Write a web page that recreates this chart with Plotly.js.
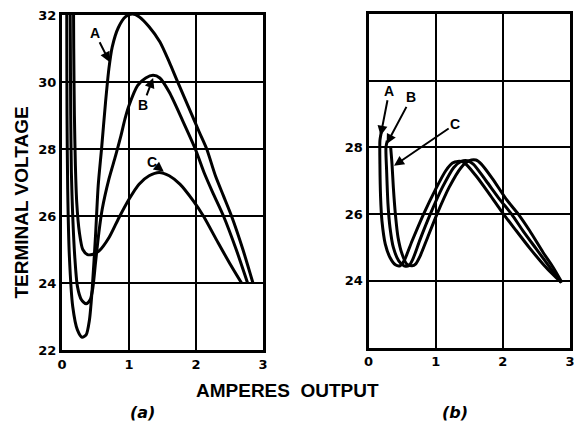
<!DOCTYPE html>
<html>
<head>
<meta charset="utf-8">
<script src="https://cdn.plot.ly/plotly-3.0.1.min.js"></script>
<style>html,body{margin:0;padding:0;background:#fff;}#chart{width:574px;height:433px;}</style>
</head>
<body>
<div id="chart"></div>
<script>
// ---- Panel (a) data: amperes output vs terminal voltage ----
const panelA_curveA_amps  = [0.07, 0.072, 0.075, 0.085, 0.11, 0.16, 0.23, 0.30, 0.36, 0.41, 0.45, 0.50, 0.54, 0.59, 0.65, 0.70, 0.75, 0.84, 0.95, 1.05, 1.15, 1.30, 1.46, 1.60, 1.71, 1.90, 2.05, 2.16, 2.29, 2.41, 2.53, 2.70, 2.85];
const panelA_curveA_volts = [33.0, 31.0, 29.0, 26.8, 24.8, 23.3, 22.6, 22.38, 22.45, 22.9, 23.8, 25.4, 26.9, 28.0, 29.4, 30.4, 31.05, 31.62, 31.95, 32.03, 31.95, 31.65, 31.2, 30.6, 30.08, 29.2, 28.5, 28.0, 27.2, 26.6, 26.0, 25.0, 24.0];

const panelA_curveB_amps  = [0.12, 0.125, 0.13, 0.14, 0.16, 0.19, 0.23, 0.29, 0.36, 0.42, 0.46, 0.50, 0.55, 0.60, 0.70, 0.80, 0.88, 0.94, 1.00, 1.13, 1.25, 1.36, 1.46, 1.60, 1.80, 1.99, 2.12, 2.25, 2.41, 2.60, 2.77];
const panelA_curveB_volts = [33.0, 31.0, 29.0, 27.3, 26.0, 24.8, 23.9, 23.5, 23.38, 23.5, 23.85, 24.6, 25.5, 26.2, 27.1, 27.8, 28.4, 28.9, 29.3, 29.9, 30.12, 30.2, 30.12, 29.7, 28.85, 28.0, 27.3, 26.7, 26.0, 25.0, 24.0];

const panelA_curveC_amps  = [0.17, 0.175, 0.185, 0.20, 0.22, 0.26, 0.31, 0.38, 0.45, 0.55, 0.70, 0.85, 1.00, 1.15, 1.30, 1.45, 1.60, 1.76, 1.96, 2.11, 2.33, 2.50, 2.68];
const panelA_curveC_volts = [33.0, 31.0, 29.0, 27.5, 26.4, 25.5, 25.0, 24.85, 24.85, 24.95, 25.35, 25.95, 26.5, 26.95, 27.2, 27.3, 27.2, 26.95, 26.45, 26.0, 25.2, 24.6, 24.0];

// ---- Panel (b) data ----
const panelB_curveA_amps  = [0.19, 0.17, 0.17, 0.18, 0.20, 0.25, 0.32, 0.40, 0.47, 0.53, 0.65, 0.82, 1.00, 1.15, 1.25, 1.33, 1.42, 1.60, 1.80, 2.01, 2.20, 2.40, 2.60, 2.75, 2.87];
const panelB_curveA_volts = [28.45, 28.2, 27.5, 26.5, 25.8, 25.1, 24.7, 24.48, 24.45, 24.6, 25.2, 26.0, 26.75, 27.3, 27.53, 27.58, 27.55, 27.15, 26.6, 26.0, 25.5, 24.98, 24.5, 24.18, 23.95];

const panelB_curveB_amps  = [0.28, 0.26, 0.27, 0.29, 0.32, 0.37, 0.45, 0.53, 0.60, 0.66, 0.77, 0.92, 1.10, 1.27, 1.38, 1.47, 1.56, 1.75, 1.95, 2.13, 2.30, 2.50, 2.70, 2.87];
const panelB_curveB_volts = [28.2, 28.0, 27.3, 26.3, 25.6, 25.0, 24.6, 24.45, 24.45, 24.65, 25.25, 26.0, 26.8, 27.4, 27.58, 27.6, 27.5, 27.0, 26.45, 26.0, 25.5, 24.95, 24.4, 23.95];

const panelB_curveC_amps  = [0.33, 0.35, 0.37, 0.40, 0.44, 0.50, 0.57, 0.65, 0.70, 0.77, 0.88, 1.02, 1.20, 1.38, 1.50, 1.60, 1.68, 1.85, 2.05, 2.23, 2.40, 2.60, 2.75, 2.88];
const panelB_curveC_volts = [28.0, 27.5, 26.8, 26.0, 25.3, 24.8, 24.5, 24.45, 24.5, 24.75, 25.3, 26.0, 26.8, 27.4, 27.6, 27.62, 27.5, 27.05, 26.45, 26.0, 25.5, 24.85, 24.4, 23.95];

// ---- Tick labels ----
const xTickVals = [0, 1, 2, 3];
const xTickText = ['0', '1', '2', '3'];
const yTickValsA = [22, 24, 26, 28, 30, 32];
const yTickTextA = ['22', '24', '26', '28', '30', '32'];
const yTickValsB = [22, 24, 26, 28, 30, 32];
const yTickTextB = ['', '24', '26', '28', '', ''];

const curveLabels = ['A', 'B', 'C'];

const lineStyle = {color: 'black', width: 3, shape: 'spline', smoothing: 0.7};
function tr(x, y, xa, ya, name) {
  return {x: x, y: y, xaxis: xa, yaxis: ya, name: name, mode: 'lines', type: 'scatter',
          line: lineStyle, hoverinfo: 'skip', showlegend: false};
}

const data = [
  tr(panelA_curveA_amps, panelA_curveA_volts, 'x', 'y', 'A'),
  tr(panelA_curveB_amps, panelA_curveB_volts, 'x', 'y', 'B'),
  tr(panelA_curveC_amps, panelA_curveC_volts, 'x', 'y', 'C'),
  tr(panelB_curveA_amps, panelB_curveA_volts, 'x2', 'y2', 'A'),
  tr(panelB_curveB_amps, panelB_curveB_volts, 'x2', 'y2', 'B'),
  tr(panelB_curveC_amps, panelB_curveC_volts, 'x2', 'y2', 'C')
];

const tickFont = {family: 'DejaVu Sans', size: 13, weight: 'bold', color: 'black'};
function xax(domain, anchor) {
  return {domain: domain, anchor: anchor, range: [0, 3], tickvals: xTickVals, ticktext: xTickText,
          showline: true, mirror: true, linecolor: 'black', linewidth: 3,
          showgrid: true, gridcolor: 'black', gridwidth: 2, zeroline: false,
          ticks: '', tickfont: tickFont, fixedrange: true, ticklabeloverflow: 'allow'};
}
function yax(domain, anchor, vals, text) {
  return {domain: domain, anchor: anchor, range: [22, 32], tickvals: vals, ticktext: text,
          showline: true, mirror: true, linecolor: 'black', linewidth: 3,
          showgrid: true, gridcolor: 'black', gridwidth: 2, zeroline: false,
          ticks: '', tickfont: tickFont, fixedrange: true, ticklabeloverflow: 'allow'};
}

const labelFont = {family: 'Liberation Sans', size: 14, weight: 'bold', color: 'black'};
function lab(text, xr, yr, x, y, ax, ay) {
  return {text: text, xref: xr, yref: yr, axref: xr, ayref: yr, x: x, y: y, ax: ax, ay: ay,
          showarrow: true, arrowhead: 2, arrowsize: 1, arrowwidth: 2, arrowcolor: 'black',
          font: labelFont};
}

const titleFont = {family: 'Liberation Sans', size: 19, weight: 'bold', color: 'black'};
const layout = {
  width: 574, height: 433,
  margin: {l: 0, r: 0, t: 0, b: 0},
  paper_bgcolor: 'white', plot_bgcolor: 'white',
  showlegend: false,
  xaxis: xax([62/574, 263/574], 'y'),
  yaxis: yax([(433-350)/433, (433-15)/433], 'x', yTickValsA, yTickTextA),
  xaxis2: xax([368.5/574, 570/574], 'y2'),
  yaxis2: yax([(433-347.5)/433, (433-14)/433], 'x2', yTickValsB, yTickTextB),
  annotations: [
    lab(curveLabels[0], 'x', 'y', 0.71, 30.6, 0.49, 31.47),
    lab(curveLabels[1], 'x', 'y', 1.36, 30.12, 1.21, 29.32),
    lab(curveLabels[2], 'x', 'y', 1.52, 27.32, 1.34, 27.6),
    lab(curveLabels[0], 'x2', 'y2', 0.18, 28.35, 0.31, 29.7),
    lab(curveLabels[1], 'x2', 'y2', 0.27, 28.1, 0.64, 29.5),
    lab(curveLabels[2], 'x2', 'y2', 0.38, 27.45, 1.29, 28.7),
    {text: 'TERMINAL VOLTAGE', xref: 'paper', yref: 'paper', x: 21.5/574, y: 1 - 203/433,
     textangle: -90, showarrow: false, font: titleFont, xanchor: 'center', yanchor: 'middle'},
    {text: 'AMPERES&nbsp;&nbsp;OUTPUT', xref: 'paper', yref: 'paper', x: 287/574, y: 1 - 390/433,
     showarrow: false, font: titleFont, xanchor: 'center', yanchor: 'middle'},
    {text: '<i>(a)</i>', xref: 'paper', yref: 'paper', x: 142/574, y: 1 - 412/433,
     showarrow: false, font: {family: 'DejaVu Sans', size: 16, weight: 'bold', color: 'black'}, xanchor: 'center', yanchor: 'middle'},
    {text: '<i>(b)</i>', xref: 'paper', yref: 'paper', x: 455/574, y: 1 - 412/433,
     showarrow: false, font: {family: 'DejaVu Sans', size: 16, weight: 'bold', color: 'black'}, xanchor: 'center', yanchor: 'middle'}
  ]
};

Plotly.newPlot('chart', data, layout, {staticPlot: true, displayModeBar: false});
</script>
</body>
</html>
